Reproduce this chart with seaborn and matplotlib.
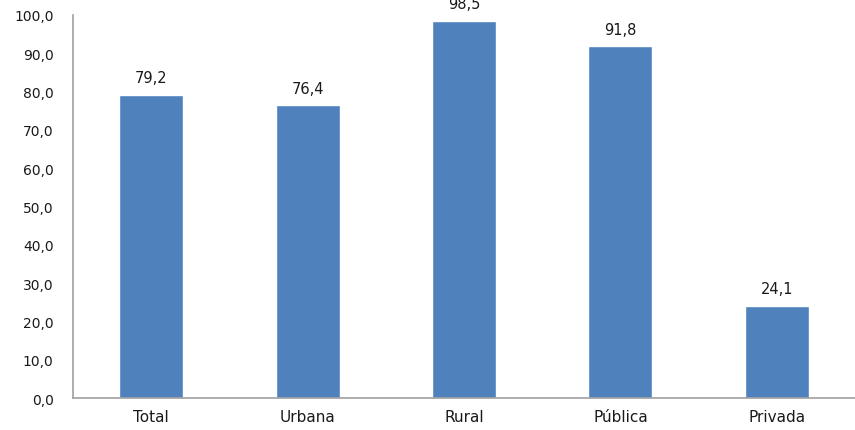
import matplotlib
matplotlib.use("Agg")
import matplotlib.pyplot as plt
import seaborn as sns
import pandas as pd

categorias = ["Total", "Urbana", "Rural", "Pública", "Privada"]
valores = [79.2, 76.4, 98.5, 91.8, 24.1]
yticks = [0, 10, 20, 30, 40, 50, 60, 70, 80, 90, 100]

df = pd.DataFrame({"cat": categorias, "val": valores})

sns.set_style("white")
plt.rcParams["font.family"] = ["DejaVu Sans"]

fig = plt.figure(figsize=(8.55, 4.31), dpi=100)
ax = fig.add_axes([0.0854, 0.074, 0.9146, 0.889])

sns.barplot(data=df, x="cat", y="val", color="#4F81BD", saturation=1,
            width=0.41, ax=ax)

for i, v in enumerate(valores):
    ax.text(i, v + 2.5, f"{v:.1f}".replace(".", ","), ha="center", va="bottom",
            fontsize=10.5, color="#1a1a1a", clip_on=False)

ax.set_ylim(0, 100)
ax.set_yticks(yticks)
ax.set_yticklabels([f"{t:.1f}".replace(".", ",") for t in yticks],
                   fontsize=10, color="#1a1a1a")
ax.set_xticks(range(len(categorias)))
ax.set_xticklabels(categorias, fontsize=11, color="#1a1a1a")
ax.set_xlabel("")
ax.set_ylabel("")
ax.tick_params(axis="both", length=0, pad=8)
ax.tick_params(axis="y", pad=14)

for s in ["top", "right"]:
    ax.spines[s].set_visible(False)
for s in ["left", "bottom"]:
    ax.spines[s].set_color("#a0a0a0")
    ax.spines[s].set_linewidth(1.2)

fig.savefig("out.png", dpi=100)
